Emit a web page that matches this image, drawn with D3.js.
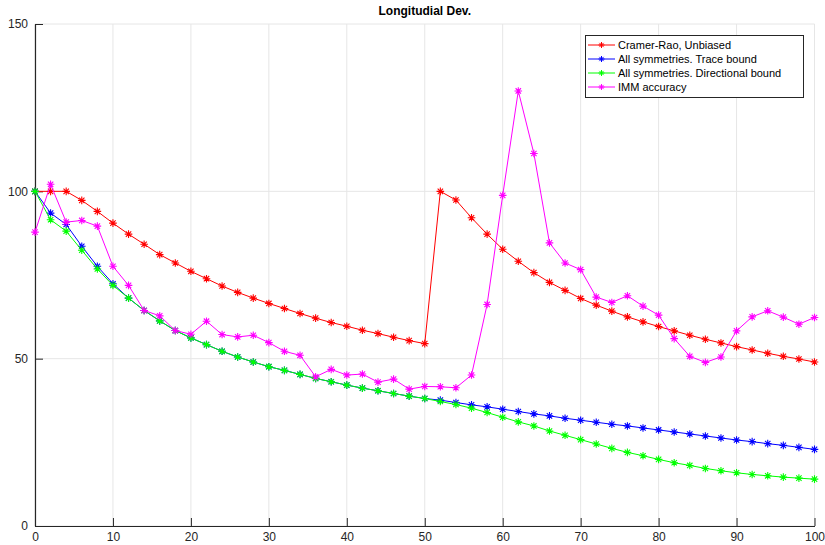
<!DOCTYPE html>
<html>
<head>
<meta charset="utf-8">
<script src="https://cdn.jsdelivr.net/npm/d3@7/dist/d3.min.js"></script>
<style>
  body { margin: 0; background: #fff; }
  svg { display: block; font-family: "Liberation Sans", Arial, Helvetica, sans-serif; }
</style>
</head>
<body>
<svg id="chart" width="825" height="545"></svg>
<script>
const xValues = d3.range(0, 101, 2);

const cramerRao = [100, 100, 100, 97.3, 94.0, 90.5, 87.2, 84.2, 81.1, 78.6,
  76.1, 73.9, 71.7, 69.8, 68.1, 66.5, 65.0, 63.5, 62.1, 60.8,
  59.7, 58.5, 57.5, 56.4, 55.4, 54.5, 100, 97.4, 92.1, 87.2,
  82.7, 79.1, 75.7, 72.8, 70.4, 68.0, 66.0, 64.2, 62.5, 61.0,
  59.6, 58.3, 57.0, 55.8, 54.7, 53.6, 52.6, 51.6, 50.7, 49.9, 49.0];

const traceBound = [100, 93.5, 90.1, 83.6, 77.6, 72.4, 68.1, 64.4, 61.3, 58.4,
  56.2, 54.2, 52.2, 50.5, 49.0, 47.6, 46.5, 45.3, 44.1, 43.1,
  42.1, 41.2, 40.4, 39.6, 38.8, 38.1, 37.6, 36.9, 36.2, 35.6,
  34.9, 34.2, 33.5, 32.9, 32.2, 31.6, 31.0, 30.4, 29.9, 29.3,
  28.7, 28.1, 27.5, 26.9, 26.3, 25.7, 25.2, 24.6, 24.1, 23.5, 22.9];

const directionalBound = [100, 91.5, 88.1, 82.4, 76.8, 71.9, 68.1, 64.4, 61.3, 58.4,
  56.2, 54.2, 52.2, 50.5, 49.0, 47.6, 46.5, 45.3, 44.1, 43.1,
  42.1, 41.2, 40.4, 39.6, 38.8, 38.1, 37.2, 36.3, 35.2, 33.9,
  32.5, 31.1, 29.9, 28.4, 27.1, 25.8, 24.5, 23.2, 22.0, 21.0,
  19.9, 18.9, 18.1, 17.2, 16.5, 15.9, 15.4, 15.0, 14.6, 14.3, 14.0];

const immAccuracy = [87.8, 102.1, 90.8, 91.3, 89.6, 77.6, 71.9, 64.4, 62.8, 58.4,
  57.3, 61.2, 57.2, 56.5, 57.0, 54.8, 52.2, 51.0, 44.6, 46.8,
  45.1, 45.4, 43.0, 43.9, 40.9, 41.7, 41.6, 41.3, 45.1, 66.2,
  98.8, 130.0, 111.3, 84.6, 78.6, 76.6, 68.4, 66.8, 68.8, 65.7,
  63.0, 56.0, 50.7, 48.9, 50.5, 58.3, 62.5, 64.3, 62.4, 60.3, 62.3];

const seriesNames = ["Cramer-Rao, Unbiased", "All symmetries. Trace bound",
  "All symmetries. Directional bound", "IMM accuracy"];
const seriesColors = ["#ff0000", "#0000ff", "#00ff00", "#ff00ff"];
const seriesValues = [cramerRao, traceBound, directionalBound, immAccuracy];

const xTicks = [0, 10, 20, 30, 40, 50, 60, 70, 80, 90, 100];
const yTicks = [0, 50, 100, 150];
const titleText = "Longitudial Dev.";

const svg = d3.select("#chart");
const mLeft = 35, mRight = 814.5, mTop = 24, mBottom = 526;

const x = d3.scaleLinear().domain([0, 100]).range([mLeft, mRight]);
const y = d3.scaleLinear().domain([0, 150]).range([mBottom, mTop]);

// grid
const grid = svg.append("g");
grid.selectAll("line.gx").data(xTicks).join("line")
  .attr("class", "gx")
  .attr("x1", d => x(d)).attr("x2", d => x(d))
  .attr("y1", mTop).attr("y2", mBottom)
  .attr("stroke", "#e6e6e6").attr("stroke-width", 1);
grid.selectAll("line.gy").data(yTicks).join("line")
  .attr("class", "gy")
  .attr("x1", mLeft).attr("x2", mRight)
  .attr("y1", d => y(d)).attr("y2", d => y(d))
  .attr("stroke", "#e6e6e6").attr("stroke-width", 1);

// axes
const xAxis = d3.axisBottom(x).tickValues(xTicks).tickSizeInner(-8).tickSizeOuter(0).tickPadding(6);
const yAxis = d3.axisLeft(y).tickValues(yTicks).tickSizeInner(-8).tickSizeOuter(0).tickPadding(7);

const gx = svg.append("g").attr("transform", `translate(0,${mBottom})`).call(xAxis);
const gy = svg.append("g").attr("transform", `translate(${mLeft},0)`).call(yAxis);
[gx, gy].forEach(g => {
  g.select(".domain").attr("stroke", "#262626").attr("stroke-width", 1.2);
  g.selectAll(".tick line").attr("stroke", "#262626").attr("stroke-width", 1);
  g.selectAll(".tick text").attr("fill", "#262626").attr("font-size", 12)
    .attr("font-family", "Liberation Sans, Arial, sans-serif");
});

// series
const line = d3.line().x((d, i) => x(xValues[i])).y(d => y(d));

function starPath(r) {
  const s = r * Math.SQRT1_2;
  return `M${-r},0L${r},0M0,${-r}L0,${r}M${-s},${-s}L${s},${s}M${-s},${s}L${s},${-s}`;
}

seriesValues.forEach((vals, si) => {
  const g = svg.append("g");
  g.append("path").datum(vals)
    .attr("d", line)
    .attr("fill", "none")
    .attr("stroke", seriesColors[si])
    .attr("stroke-width", 1);
  g.selectAll("path.m").data(vals).join("path")
    .attr("class", "m")
    .attr("transform", (d, i) => `translate(${x(xValues[i])},${y(d)})`)
    .attr("d", starPath(3.8))
    .attr("stroke", seriesColors[si])
    .attr("stroke-width", 1.1)
    .attr("fill", "none");
});

// title
svg.append("text")
  .attr("x", (mLeft + mRight) / 2).attr("y", 15)
  .attr("text-anchor", "middle")
  .attr("font-size", 12).attr("font-weight", "bold")
  .attr("fill", "#000")
  .text(titleText);

// legend
const lg = svg.append("g").attr("transform", "translate(585,35)");
lg.append("rect").attr("x", 0.5).attr("y", 0.5).attr("width", 218).attr("height", 62)
  .attr("fill", "#fff").attr("stroke", "#262626").attr("stroke-width", 1);
seriesNames.forEach((name, i) => {
  const yy = 10 + i * 14;
  lg.append("line").attr("x1", 3).attr("x2", 30).attr("y1", yy).attr("y2", yy)
    .attr("stroke", seriesColors[i]).attr("stroke-width", 1);
  lg.append("path").attr("transform", `translate(16.5,${yy})`)
    .attr("d", starPath(3)).attr("stroke", seriesColors[i]).attr("stroke-width", 1).attr("fill", "none");
  lg.append("text").attr("x", 33).attr("y", yy + 4)
    .attr("font-size", 11).attr("fill", "#000")
    .text(name);
});
</script>
</body>
</html>
